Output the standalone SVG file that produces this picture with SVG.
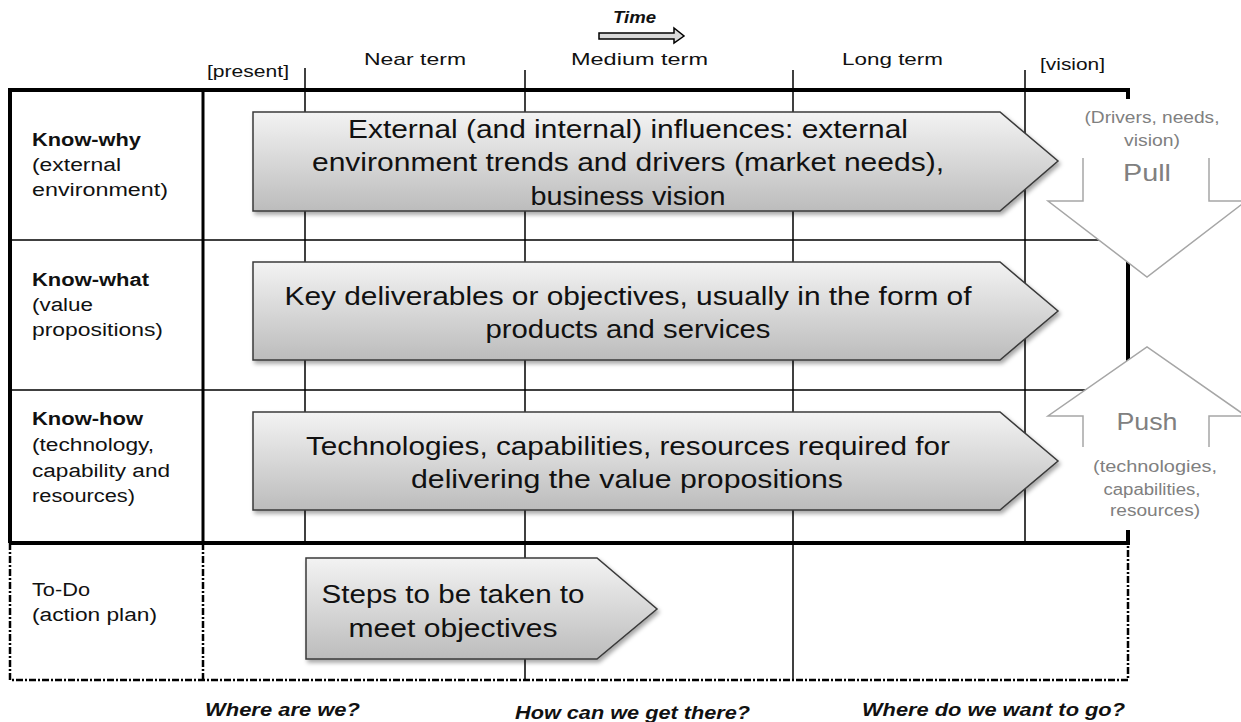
<svg xmlns="http://www.w3.org/2000/svg" width="1241" height="722" viewBox="0 0 1241 722">
<defs>
<linearGradient id="gf" x1="0" y1="0" x2="0" y2="1">
<stop offset="0" stop-color="#f3f3f3"/>
<stop offset="1" stop-color="#bcbcbc"/>
</linearGradient>
<filter id="sh" x="-5%" y="-10%" width="110%" height="130%">
<feDropShadow dx="2" dy="3" stdDeviation="2" flood-color="#000" flood-opacity="0.35"/>
</filter>
<style>
text{font-family:"Liberation Sans",Arial,sans-serif;fill:#111}
.lbl{font-size:18px}
.b{font-weight:bold}
.bi{font-weight:bold;font-style:italic}
.hdr{font-size:17px}
.big{font-size:25px;text-anchor:middle}
.gray{fill:#808080;text-anchor:middle}
.thin{stroke:#000;stroke-width:1.5;fill:none}
.thick{stroke:#000;stroke-width:4;fill:none}
.mid{stroke:#000;stroke-width:3;fill:none}
.dd{stroke:#000;stroke-width:2.5;fill:none;stroke-dasharray:7 2 2 2}
.ba{fill:url(#gf);stroke:#3a3a3a;stroke-width:1.5;filter:url(#sh)}
.pp{fill:#fff;stroke:none}
.pl{fill:none;stroke:#a6a6a6;stroke-width:1.5}
</style>
</defs>
<rect width="1241" height="722" fill="#fff"/>

<g id="connectors">
<!-- grid -->
<line class="thin" x1="10" y1="240" x2="1128" y2="240"/>
<line class="thin" x1="10" y1="390" x2="1128" y2="390"/>
<line class="thin" x1="305" y1="68" x2="305" y2="543"/>
<line class="thin" x1="525" y1="70" x2="525" y2="680"/>
<line class="thin" x1="793" y1="70" x2="793" y2="680"/>
<line class="thin" x1="1025" y1="70" x2="1025" y2="543"/>
<line class="mid" x1="203" y1="90" x2="203" y2="543"/>
<path class="thick" d="M10,543 V90 H1128 V543 H10"/>
<path class="dd" d="M10,543 V680 H1128 V543"/>
<line class="dd" x1="203" y1="543" x2="203" y2="680"/>
</g>

<g id="time">
<text class="bi" x="613" y="23" font-size="16" textLength="43" lengthAdjust="spacingAndGlyphs">Time</text>
<path d="M599,33 H674 V28 L684,36 L674,43 V39 H599 Z" fill="#d9d9d9" stroke="#000" stroke-width="1.5"/>
</g>

<g id="headers" class="hdr">
<text x="207" y="77" textLength="82" lengthAdjust="spacingAndGlyphs">[present]</text>
<text x="364" y="65" textLength="102" lengthAdjust="spacingAndGlyphs">Near term</text>
<text x="571" y="65" textLength="137" lengthAdjust="spacingAndGlyphs">Medium term</text>
<text x="842" y="65" textLength="101" lengthAdjust="spacingAndGlyphs">Long term</text>
<text x="1040" y="70" textLength="65" lengthAdjust="spacingAndGlyphs">[vision]</text>
</g>

<g id="row-knowwhy" class="lbl">
<text x="32" y="146" class="b" textLength="109" lengthAdjust="spacingAndGlyphs">Know-why</text>
<text x="32" y="171" textLength="89" lengthAdjust="spacingAndGlyphs">(external</text>
<text x="32" y="196" textLength="136" lengthAdjust="spacingAndGlyphs">environment)</text>
</g>
<g id="row-knowwhat" class="lbl">
<text x="32" y="286" class="b" textLength="117" lengthAdjust="spacingAndGlyphs">Know-what</text>
<text x="32" y="311" textLength="61" lengthAdjust="spacingAndGlyphs">(value</text>
<text x="32" y="336" textLength="131" lengthAdjust="spacingAndGlyphs">propositions)</text>
</g>
<g id="row-knowhow" class="lbl">
<text x="32" y="425" class="b" textLength="111" lengthAdjust="spacingAndGlyphs">Know-how</text>
<text x="32" y="451" textLength="122" lengthAdjust="spacingAndGlyphs">(technology,</text>
<text x="32" y="477" textLength="138" lengthAdjust="spacingAndGlyphs">capability and</text>
<text x="32" y="502" textLength="103" lengthAdjust="spacingAndGlyphs">resources)</text>
</g>
<g id="row-todo" class="lbl">
<text x="32" y="596" textLength="58" lengthAdjust="spacingAndGlyphs">To-Do</text>
<text x="32" y="621" textLength="125" lengthAdjust="spacingAndGlyphs">(action plan)</text>
</g>

<g id="arrow-why">
<path class="ba" d="M253,112 H1000 L1058,161 L1000,211 H253 Z"/>
<text class="big" x="628" y="138" textLength="560" lengthAdjust="spacingAndGlyphs">External (and internal) influences: external</text>
<text class="big" x="628" y="171" textLength="632" lengthAdjust="spacingAndGlyphs">environment trends and drivers (market needs),</text>
<text class="big" x="628" y="205" textLength="195" lengthAdjust="spacingAndGlyphs">business vision</text>
</g>
<g id="arrow-what">
<path class="ba" d="M253,262 H1000 L1058,311 L1000,360 H253 Z"/>
<text class="big" x="628" y="305" textLength="687" lengthAdjust="spacingAndGlyphs">Key deliverables or objectives, usually in the form of</text>
<text class="big" x="628" y="338" textLength="285" lengthAdjust="spacingAndGlyphs">products and services</text>
</g>
<g id="arrow-how">
<path class="ba" d="M253,412 H1000 L1058,461 L1000,510 H253 Z"/>
<text class="big" x="628" y="455" textLength="644" lengthAdjust="spacingAndGlyphs">Technologies, capabilities, resources required for</text>
<text class="big" x="627" y="488" textLength="432" lengthAdjust="spacingAndGlyphs">delivering the value propositions</text>
</g>
<g id="arrow-todo">
<path class="ba" d="M306,558 H597 L657,609 L597,659 H306 Z"/>
<text class="big" x="453" y="603" textLength="263" lengthAdjust="spacingAndGlyphs">Steps to be taken to</text>
<text class="big" x="453" y="637" textLength="209" lengthAdjust="spacingAndGlyphs">meet objectives</text>
</g>

<g id="pull">
<path class="pp" d="M1083,99 H1209 V201 H1246 L1147,277 L1048,201 H1083 Z"/>
<polyline class="pl" points="1083,158 1083,201 1048,201 1147,277 1246,201 1209,201 1209,158"/>
<text class="gray" x="1152" y="123" font-size="16" textLength="135" lengthAdjust="spacingAndGlyphs">(Drivers, needs,</text>
<text class="gray" x="1152" y="146" font-size="16" textLength="56" lengthAdjust="spacingAndGlyphs">vision)</text>
<text class="gray" x="1147" y="181" font-size="24" textLength="48" lengthAdjust="spacingAndGlyphs">Pull</text>
</g>
<g id="push">
<path class="pp" d="M1083,416 H1048 L1147,347 L1246,416 H1209 V530 H1083 Z"/>
<polyline class="pl" points="1083,447 1083,416 1048,416 1147,347 1246,416 1209,416 1209,447"/>
<text class="gray" x="1147" y="430" font-size="24" textLength="61" lengthAdjust="spacingAndGlyphs">Push</text>
<text class="gray" x="1155" y="472" font-size="16" textLength="124" lengthAdjust="spacingAndGlyphs">(technologies,</text>
<text class="gray" x="1152" y="495" font-size="16" textLength="97" lengthAdjust="spacingAndGlyphs">capabilities,</text>
<text class="gray" x="1155" y="516" font-size="16" textLength="90" lengthAdjust="spacingAndGlyphs">resources)</text>
</g>

<g id="footer" class="bi" font-size="18">
<text x="205" y="716" textLength="155" lengthAdjust="spacingAndGlyphs">Where are we?</text>
<text x="515" y="719" textLength="235" lengthAdjust="spacingAndGlyphs">How can we get there?</text>
<text x="862" y="716" textLength="263" lengthAdjust="spacingAndGlyphs">Where do we want to go?</text>
</g>
</svg>
